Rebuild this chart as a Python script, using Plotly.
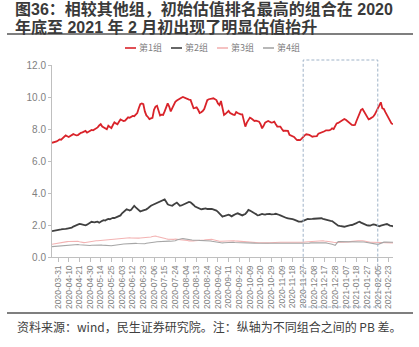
import plotly.graph_objects as go
import pandas as pd

SERIES_NAMES = ["第1组", "第2组", "第3组", "第4组"]
SERIES_COLORS = ["#d9232a", "#404040", "#f3b3b3", "#a6a6a6"]
SERIES_WIDTHS = [1.8, 1.8, 1.1, 1.1]

TICK_LABELS = [
    "2020-03-31", "2020-04-10", "2020-04-21", "2020-04-30", "2020-05-14", "2020-05-25",
    "2020-06-03", "2020-06-12", "2020-06-23", "2020-07-06", "2020-07-15", "2020-07-24",
    "2020-08-04", "2020-08-13", "2020-08-24", "2020-09-02", "2020-09-11", "2020-09-22",
    "2020-10-09", "2020-10-20", "2020-10-29", "2020-11-09", "2020-11-18", "2020-11-27",
    "2020-12-08", "2020-12-17", "2020-12-28", "2021-01-07", "2021-01-18", "2021-01-27",
    "2021-02-05", "2021-02-23",
]
HOLIDAYS = [
    "2020-04-06", "2020-05-01", "2020-05-04", "2020-05-05", "2020-06-25", "2020-06-26",
    "2020-10-01", "2020-10-02", "2020-10-05", "2020-10-06", "2020-10-07", "2020-10-08",
    "2021-01-01", "2021-02-11", "2021-02-12", "2021-02-15", "2021-02-16", "2021-02-17",
]
BOX_START, BOX_END = "2020-11-27", "2021-02-05"

G1 = [
    7.14, 7.16, 7.20, 7.22, 7.28, 7.35, 7.33, 7.42, 7.50, 7.60,
    7.55, 7.50, 7.56, 7.62, 7.68, 7.64, 7.60, 7.62, 7.70, 7.76,
    7.79, 7.84, 7.88, 7.77, 7.82, 7.90, 7.94, 7.92, 7.98, 8.02,
    8.10, 8.22, 8.30, 8.15, 8.08, 8.02, 7.98, 8.20, 8.12, 8.05,
    8.25, 8.42, 8.35, 8.30, 8.45, 8.60, 8.55, 8.50, 8.52, 8.65,
    8.73, 8.70, 8.78, 8.82, 8.80, 8.90, 9.00, 9.30, 9.55, 9.60,
    9.55, 9.10, 8.85, 8.75, 8.62, 8.66, 8.70, 9.20, 9.40, 9.45,
    9.20, 8.85, 8.90, 8.88, 9.10, 9.35, 9.60, 9.40, 9.10, 9.30,
    9.55, 9.70, 9.78, 9.85, 9.88, 9.95, 10.00, 9.96, 9.88, 9.86,
    9.84, 9.82, 9.60, 9.30, 9.32, 9.35, 9.20, 9.00, 9.05, 9.12,
    9.25, 9.50, 9.80, 9.86, 9.90, 9.90, 9.92, 9.88, 9.81, 9.60,
    9.50, 9.75, 9.20, 8.88, 8.95, 9.05, 9.13, 9.00, 8.92, 8.90,
    8.88, 9.06, 9.00, 8.95, 8.92, 8.92, 8.50, 8.15, 8.40, 8.60,
    8.71, 8.65, 8.60, 8.50, 8.52, 8.48, 8.46, 8.30, 8.04, 8.20,
    8.40, 8.45, 8.50, 8.45, 8.40, 8.42, 8.46, 8.30, 8.15, 8.15,
    8.15, 8.00, 7.88, 7.90, 7.88, 7.88, 7.63, 7.60, 7.56, 7.50,
    7.40, 7.31, 7.32, 7.31, 7.40, 7.52, 7.60, 7.67, 7.66, 7.63,
    7.58, 7.52, 7.54, 7.56, 7.56, 7.71, 7.74, 7.78, 7.81, 7.86,
    7.92, 7.90, 7.92, 7.95, 8.04, 8.00, 8.20, 8.35, 8.38, 8.44,
    8.50, 8.55, 8.63, 8.58, 8.50, 8.40, 8.30, 8.25, 8.24, 8.25,
    8.50, 8.77, 9.00, 9.20, 9.25, 9.10, 8.98, 8.80, 8.60, 8.65,
    8.71, 8.77, 8.90, 9.10, 9.33, 9.50, 9.67, 9.29, 9.25, 9.05,
    8.88, 8.70, 8.46, 8.35, 8.29,
]
G2 = [
    1.62, 1.63, 1.65, 1.66, 1.68, 1.70, 1.72, 1.74, 1.73, 1.76,
    1.78, 1.79, 1.80, 1.84, 1.90, 1.95, 2.00, 2.04, 2.06, 2.05,
    2.02, 2.00, 1.98, 2.02, 2.08, 2.12, 2.20, 2.18, 2.16, 2.19,
    2.20, 2.14, 2.22, 2.26, 2.30, 2.28, 2.34, 2.38, 2.36, 2.42,
    2.45, 2.44, 2.48, 2.50, 2.52, 2.60, 2.73, 2.80, 2.90, 2.98,
    2.95, 2.90, 2.95, 3.05, 3.20, 3.10, 3.00, 2.90, 2.85, 2.88,
    2.90, 2.95, 2.98, 3.05, 3.15, 3.20, 3.25, 3.30, 3.35, 3.38,
    3.40, 3.45, 3.50, 3.56, 3.60, 3.45, 3.30, 3.25, 3.22, 3.20,
    3.28, 3.35, 3.40, 3.30, 3.20, 3.22, 3.26, 3.30, 3.35, 3.40,
    3.44, 3.42, 3.35, 3.25, 3.15, 3.10, 3.05, 3.02, 2.98, 3.00,
    3.02, 3.04, 3.00, 2.98, 3.00, 3.00, 2.98, 2.95, 2.90, 2.82,
    2.73, 2.60, 2.52, 2.56, 2.60, 2.62, 2.65, 2.60, 2.54, 2.60,
    2.67, 2.70, 2.73, 2.68, 2.64, 2.60, 2.65, 2.69, 2.80, 2.94,
    2.90, 2.83, 2.78, 2.73, 2.68, 2.60, 2.62, 2.66, 2.69, 2.67,
    2.65, 2.68, 2.70, 2.69, 2.66, 2.65, 2.68, 2.70, 2.69, 2.64,
    2.60, 2.55, 2.50, 2.46, 2.44, 2.42, 2.41, 2.40, 2.36, 2.33,
    2.31, 2.26, 2.21, 2.20, 2.21, 2.26, 2.30, 2.35, 2.38, 2.37,
    2.36, 2.38, 2.39, 2.40, 2.42, 2.43, 2.44, 2.42, 2.38, 2.35,
    2.32, 2.28, 2.27, 2.26, 2.25, 2.18, 2.08, 2.00, 1.96, 1.94,
    1.92, 1.90, 1.89, 1.92, 1.96, 1.98, 1.99, 2.00, 2.03, 2.06,
    2.12, 2.17, 2.21, 2.15, 2.10, 2.05, 2.00, 1.98, 1.97, 1.96,
    2.00, 2.04, 2.02, 2.00, 1.96, 1.92, 1.96, 2.00, 2.02, 2.04,
    2.06, 2.00, 1.96, 1.94, 1.92,
]
G3 = [
    0.80, 0.82, 0.84, 0.85, 0.87, 0.88, 0.90, 0.92, 0.94, 0.96,
    0.96, 0.97, 0.97, 0.98, 0.99, 1.00, 1.00, 0.98, 0.95, 0.92,
    0.90, 0.90, 0.91, 0.93, 0.94, 0.95, 0.96, 0.98, 1.00, 1.02,
    1.02, 1.03, 1.04, 1.05, 1.06, 1.06, 1.07, 1.08, 1.08, 1.09,
    1.10, 1.10, 1.11, 1.12, 1.14, 1.15, 1.16, 1.18, 1.19, 1.20,
    1.21, 1.20, 1.19, 1.18, 1.17, 1.17, 1.17, 1.18, 1.19, 1.20,
    1.20, 1.21, 1.20, 1.20, 1.22, 1.25, 1.28, 1.30, 1.31, 1.28,
    1.25, 1.22, 1.20, 1.18, 1.16, 1.14, 1.12, 1.11, 1.10, 1.10,
    1.10, 1.12, 1.11, 1.10, 1.10, 1.09, 1.10, 1.08, 1.05, 1.03,
    1.01, 1.00, 1.00, 1.01, 1.02, 1.02, 1.03, 1.04, 1.04, 1.05,
    1.06, 1.08, 1.09, 1.10, 1.10, 1.10, 1.08, 1.05, 1.02, 1.00,
    0.98, 0.98, 0.99, 1.00, 1.01, 1.02, 1.02, 1.01, 1.02, 1.02,
    1.01, 1.00, 0.99, 0.98, 0.97, 0.96, 0.95, 0.94, 0.93, 0.92,
    0.92, 0.92, 0.91, 0.90, 0.90, 0.90, 0.89, 0.89, 0.88, 0.88,
    0.88, 0.88, 0.88, 0.89, 0.90, 0.90, 0.91, 0.91, 0.92, 0.92,
    0.92, 0.92, 0.92, 0.91, 0.90, 0.90, 0.89, 0.89, 0.88, 0.88,
    0.88, 0.88, 0.88, 0.89, 0.90, 0.92, 0.94, 0.95, 0.96, 0.97,
    0.98, 0.99, 1.00, 1.00, 1.01, 1.01, 1.02, 1.02, 1.02, 1.00,
    0.98, 0.96, 0.94, 0.93, 0.92, 0.92, 0.91, 0.91, 0.92, 0.92,
    0.92, 0.92, 0.92, 0.93, 0.92, 0.94, 0.96, 0.98, 1.00, 1.00,
    1.01, 1.02, 1.02, 1.03, 1.02, 1.00, 0.97, 0.95, 0.93, 0.92,
    0.92, 0.92, 0.92, 0.91, 0.92, 0.92, 0.92, 0.92, 0.91, 0.90,
    0.90, 0.89, 0.89, 0.88, 0.88,
]
G4 = [
    0.65, 0.66, 0.67, 0.68, 0.69, 0.70, 0.71, 0.72, 0.72, 0.73,
    0.73, 0.74, 0.75, 0.76, 0.77, 0.78, 0.79, 0.78, 0.77, 0.76,
    0.75, 0.74, 0.72, 0.71, 0.71, 0.72, 0.73, 0.74, 0.74, 0.75,
    0.75, 0.75, 0.75, 0.74, 0.73, 0.72, 0.71, 0.70, 0.69, 0.70,
    0.72, 0.74, 0.76, 0.77, 0.78, 0.79, 0.80, 0.81, 0.82, 0.83,
    0.84, 0.84, 0.85, 0.85, 0.86, 0.85, 0.84, 0.83, 0.82, 0.81,
    0.81, 0.83, 0.86, 0.88, 0.90, 0.91, 0.92, 0.93, 0.94, 0.95,
    0.96, 0.97, 0.98, 0.99, 1.00, 1.00, 1.00, 0.99, 0.98, 0.98,
    0.98, 1.02, 1.06, 1.10, 1.12, 1.14, 1.15, 1.13, 1.10, 1.08,
    1.06, 1.06, 1.06, 1.05, 1.06, 1.06, 1.05, 1.04, 1.04, 1.03,
    1.03, 1.02, 1.02, 1.01, 1.00, 0.98, 0.96, 0.94, 0.92, 0.90,
    0.89, 0.88, 0.88, 0.89, 0.90, 0.90, 0.91, 0.92, 0.92, 0.92,
    0.91, 0.91, 0.90, 0.90, 0.90, 0.89, 0.89, 0.88, 0.88, 0.88,
    0.88, 0.87, 0.87, 0.87, 0.86, 0.86, 0.86, 0.86, 0.85, 0.85,
    0.85, 0.85, 0.85, 0.85, 0.85, 0.85, 0.85, 0.85, 0.85, 0.85,
    0.85, 0.85, 0.85, 0.84, 0.84, 0.84, 0.84, 0.83, 0.83, 0.83,
    0.83, 0.83, 0.83, 0.84, 0.84, 0.85, 0.86, 0.86, 0.87, 0.87,
    0.88, 0.88, 0.89, 0.90, 0.90, 0.91, 0.91, 0.92, 0.92, 0.90,
    0.88, 0.86, 0.85, 0.83, 0.80, 0.76, 0.73, 0.85, 0.96, 0.96,
    0.96, 0.96, 0.96, 0.96, 0.96, 0.97, 0.97, 0.96, 0.96, 0.96,
    0.96, 0.97, 0.97, 0.96, 0.96, 0.94, 0.92, 0.90, 0.87, 0.85,
    0.83, 0.81, 0.80, 0.79, 0.79, 0.82, 0.86, 0.92, 0.93, 0.93,
    0.93, 0.92, 0.92, 0.92, 0.92,
]
SERIES = [G1, G2, G3, G4]

TITLE_LINES = ["图36：相较其他组，初始估值排名最高的组合在 2020", "年底至 2021 年 2 月初出现了明显估值抬升"]
FOOTER = "资料来源：wind，民生证券研究院。注：纵轴为不同组合之间的 PB 差。"

# trading-day category axis
DATES = [d.strftime("%Y-%m-%d") for d in pd.bdate_range("2020-03-25", "2021-02-26")
         if d.strftime("%Y-%m-%d") not in HOLIDAYS]

W, H = 419, 347
ML, MR, MT, MB = 52, 26, 65, 90
PW, PH = W - ML - MR, H - MT - MB


def px(x):
    return (x - ML) / PW


def py(y):
    return (H - MB - y) / PH


CJK = "Noto Sans CJK SC"
TITLE_FONT = "Liberation Sans, Noto Sans CJK SC"

fig = go.Figure()
for name, vals, col, wd in zip(SERIES_NAMES, SERIES, SERIES_COLORS, SERIES_WIDTHS):
    n = min(len(vals), len(DATES))
    fig.add_trace(go.Scatter(x=DATES[:n], y=vals[:n], mode="lines", name=name,
                             line=dict(color=col, width=wd)))

shapes = []
annotations = []

# highlighted period box
if BOX_START in DATES and BOX_END in DATES:
    shapes.append(dict(type="rect", xref="x", yref="paper",
                       x0=DATES.index(BOX_START), x1=DATES.index(BOX_END),
                       y0=py(307), y1=py(60),
                       line=dict(color="#9fb3c8", width=1, dash="3px,2px"),
                       fillcolor="rgba(0,0,0,0)"))

# title lines
for i, t in enumerate(TITLE_LINES):
    annotations.append(dict(text="<b>%s</b>" % t, xref="paper", yref="paper",
                            x=px(14), y=py(8.5 + 18 * i), xanchor="left", yanchor="middle",
                            showarrow=False, borderpad=0,
                            font=dict(family=TITLE_FONT, size=16, color="#3a3a3a")))
# separators
shapes.append(dict(type="line", xref="paper", yref="paper", x0=px(7), x1=px(413),
                   y0=py(34), y1=py(34), line=dict(color="#555555", width=1.6)))
shapes.append(dict(type="line", xref="paper", yref="paper", x0=px(7), x1=px(413),
                   y0=py(313), y1=py(313), line=dict(color="#555555", width=1.6)))
# footer
annotations.append(dict(text=FOOTER, xref="paper", yref="paper", x=px(15), y=py(326),
                        xanchor="left", yanchor="middle", showarrow=False,
                        font=dict(family=CJK, size=12, color="#404040")))

# legend (custom, short line samples)
leg_x0 = 125
leg_step = 46
for i, (name, col) in enumerate(zip(SERIES_NAMES, SERIES_COLORS)):
    x0 = leg_x0 + i * leg_step
    shapes.append(dict(type="line", xref="paper", yref="paper", x0=px(x0), x1=px(x0 + 11),
                       y0=py(48), y1=py(48), line=dict(color=col, width=1.6)))
    annotations.append(dict(text=name, xref="paper", yref="paper", x=px(x0 + 13), y=py(48),
                            xanchor="left", yanchor="middle", showarrow=False, borderpad=0,
                            font=dict(family=CJK, size=9, color="#7f7f7f")))

fig.update_layout(
    width=W, height=H,
    margin=dict(l=ML, r=MR, t=MT, b=MB, pad=0),
    paper_bgcolor="white", plot_bgcolor="white",
    showlegend=False,
    shapes=shapes, annotations=annotations,
    xaxis=dict(type="category", range=[0, len(DATES) - 1], tickmode="array",
               tickvals=TICK_LABELS, ticktext=TICK_LABELS, tickangle=-90,
               tickfont=dict(family="Liberation Sans", size=8.5, color="#7f7f7f"),
               showline=True, linecolor="#bfbfbf", linewidth=1,
               ticks="outside", ticklen=4, tickcolor="#bfbfbf",
               showgrid=False, zeroline=False, automargin=False),
    yaxis=dict(range=[0, 12], tickmode="array", tickvals=[0, 2, 4, 6, 8, 10, 12],
               tickformat=".1f",
               tickfont=dict(family="Liberation Sans", size=10, color="#7f7f7f"),
               showline=True, linecolor="#bfbfbf", linewidth=1,
               ticks="outside", ticklen=3, tickcolor="#bfbfbf",
               showgrid=False, zeroline=False, automargin=False),
)

fig.write_html("out.html")
